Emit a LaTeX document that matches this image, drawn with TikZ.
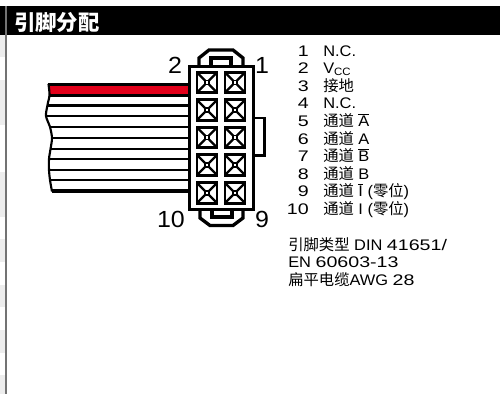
\documentclass[tikz,border=0pt]{standalone}
\usepackage{fontspec}
\setmainfont[FakeStretch=1.07]{Liberation Sans}
\newfontfamily\dg[FakeStretch=1.28]{Liberation Sans}
\newfontfamily\cjk{Noto Sans CJK SC}
\newcommand{\ovl}[1]{\vbox{\hrule height 0.6pt\kern 1pt\hbox{#1}}}
\definecolor{ribbonred}{RGB}{226,0,26}
\tikzset{
  ln/.style={line width=2.5pt,black},
  th/.style={line width=1.8pt,black},
  num/.style={font=\fontsize{17.5}{18}\selectfont,inner sep=0pt},
  lbl/.style={font=\fontsize{11.5}{12}\selectfont,inner sep=0pt,anchor=base west},
  idx/.style={font=\dg\fontsize{11.5}{12}\selectfont,inner sep=0pt,anchor=base east},
}
\newcommand{\pinbox}[2]{%
  \begin{scope}[shift={(#1,#2)}]
    \draw[line width=2.2pt] (-10,-10.3) rectangle (10,10.3);
    \draw[line width=1.8pt] (-9,-9) -- (-2,-2) (9,-9) -- (2,-2) (-9,9) -- (-2,2) (9,9) -- (2,2);
    \draw[line width=0.8pt] (-2,-2) rectangle (2,2);
  \end{scope}}
\begin{document}
\begin{tikzpicture}[x=0.75pt,y=-0.75pt]
\useasboundingbox (0,0) rectangle (500,394);
\fill[white] (0,0) rectangle (500,394);
% left strip
\foreach \a/\b in {35/57,80/125,172/217,239/262,285/307,330/353,375/394}{\fill[black!7] (0,\a) rectangle (5,\b);}
% header
\fill[black] (0,6) rectangle (500,35);
\fill[black!55] (5,6) rectangle (7,394);
\node[anchor=base west,inner sep=0pt,text=white,font=\cjk\bfseries\fontsize{16}{16}\selectfont] (title) at (14,30) {引脚分配};
% cable
\fill[ribbonred] (49,86) rectangle (190,94);
\draw[ln] (47.5,84.5) -- (190,84.5);
\foreach \x/\y in {49/95.5,48/105.5,46/116,50/127,52/138,51/149,49/159,49/170,50/180}{\draw[th] (\x,\y) -- (190,\y);}
\draw[ln] (52,191) -- (190,191);
\draw[line width=1.6pt,line join=round] plot[smooth] coordinates {(48.5,84) (49.5,95) (47.5,105) (46,116) (50,127) (52,138) (50.5,149) (49,159) (49,170) (50,180) (52,191.5)};
% latch top & bottom
\draw[ln,fill=white] (199,66) -- (199,58) -- (209,50) -- (233,50) -- (243,58) -- (243,66);
\draw[ln] (211,66) -- (211,58) -- (231,58) -- (231,66);
\draw[ln,fill=white] (200,209) -- (200,218) -- (210,225.5) -- (233,225.5) -- (243,218) -- (243,209);
\draw[ln] (212,209) -- (212,217) -- (232,217) -- (232,209);
% side tab
\draw[line width=2pt] (254,118) -- (264.5,118) -- (264.5,155.5) -- (254,155.5);
% body
\draw[ln,fill=white] (189.5,66.5) rectangle (253.5,209.5);
\foreach \y in {82.5,110,137.5,165,193}{\pinbox{207}{\y}\pinbox{235}{\y}}
% pin numbers
\node[num] (p2) at (175,65.5) {2};
\node[num] (p1) at (262,65.5) {1};
\node[num] (p10) at (171,219) {10};
\node[num] (p9) at (262,219) {9};
% list
\node[idx] at (309,56) {1};      \node[lbl] at (323,56) {N.C.};
\node[idx] at (309,73.6) {2};    \node[lbl] at (323,73.6) {V{\fontsize{8}{8}\selectfont\raisebox{-1.5pt}{CC}}};
\node[idx] at (309,91.2) {3};    \node[lbl] at (323,91.2) {\cjk 接地};
\node[idx] at (309,108.8) {4};   \node[lbl] at (323,108.8) {N.C.};
\node[idx] at (309,126.4) {5};   \node[lbl] at (323,126.4) {{\cjk 通道} \ovl{A}};
\node[idx] at (309,144) {6};     \node[lbl] at (323,144) {{\cjk 通道} A};
\node[idx] at (309,161.6) {7};   \node[lbl] at (323,161.6) {{\cjk 通道} \ovl{B}};
\node[idx] at (309,179.2) {8};   \node[lbl] at (323,179.2) {{\cjk 通道} B};
\node[idx] at (309,196.8) {9};   \node[lbl] at (323,196.8) {{\cjk 通道} \ovl{I} ({\cjk 零位})};
\node[idx] at (309,214.4) {10};  \node[lbl] at (323,214.4) {{\cjk 通道} I ({\cjk 零位})};
\node[lbl] at (288,250) {{\cjk 引脚类型} DIN {\dg 41651/}};
\node[lbl] at (288,267) {EN {\dg 60603-13}};
\node[lbl] at (288,285) {{\cjk 扁平电缆}AWG {\dg 28}};
\end{tikzpicture}
\end{document}
